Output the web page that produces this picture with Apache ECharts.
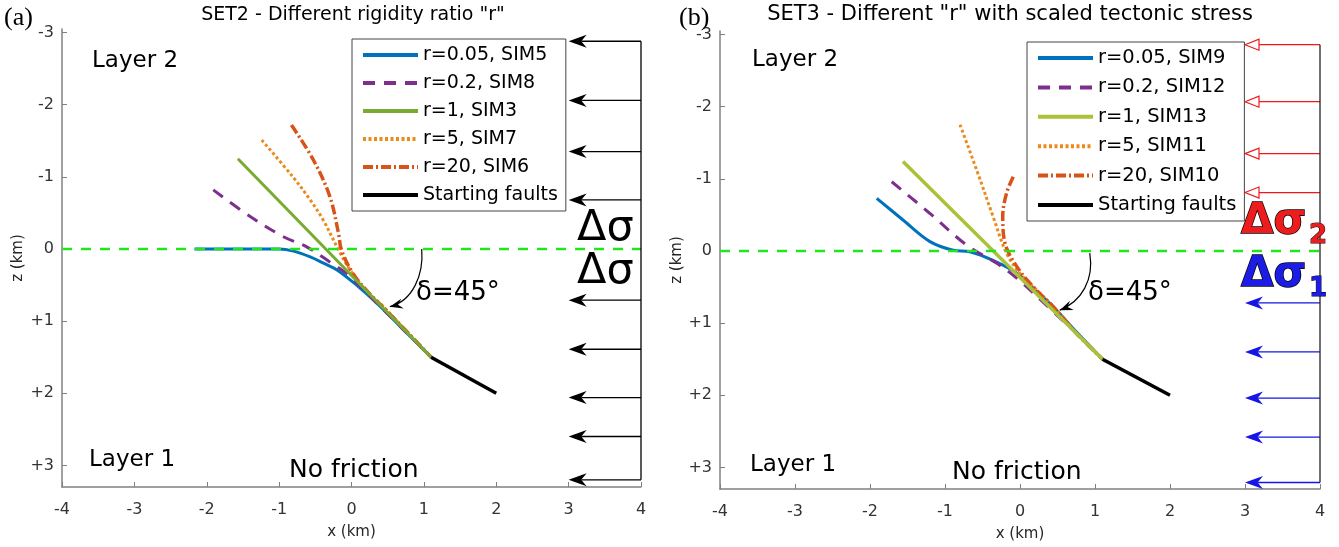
<!DOCTYPE html>
<html>
<head>
<meta charset="utf-8">
<title>SET2 / SET3 fault traces</title>
<script src="https://cdn.jsdelivr.net/npm/echarts@6/dist/echarts.min.js"></script>
<style>
  html, body { margin: 0; padding: 0; background: #fff; }
  #chart { width: 1339px; height: 547px; }
</style>
</head>
<body>
<div id="chart"></div>
<script>
// axis ticks
const xTicks = [-4, -3, -2, -1, 0, 1, 2, 3, 4]
const zTicks = [-3, -2, -1, 0, 1, 2, 3]

// (a) SET2 - different rigidity ratio r
const sim5X = [-2.17, -1.6, -1.2, -1.0, -0.8, -0.57, -0.38, -0.2, 0.07, 0.35, 0.7, 1.1]
const sim5Z = [0, 0, 0, 0, 0.03, 0.11, 0.2, 0.29, 0.5, 0.75, 1.1, 1.5]
const sim8X = [-1.91, -1.4, -0.94, -0.62, -0.3, -0.02, 0.35, 0.7, 1.1]
const sim8Z = [-0.82, -0.45, -0.17, -0.03, 0.18, 0.38, 0.75, 1.1, 1.5]
const sim3X = [-1.57, 1.1]
const sim3Z = [-1.25, 1.5]
const sim7X = [-1.24, -0.81, -0.57, -0.39, -0.18, -0.02, 0.2, 0.44, 0.75, 1.1]
const sim7Z = [-1.51, -1.0, -0.68, -0.4, 0.01, 0.29, 0.57, 0.8, 1.13, 1.5]
const sim6X = [-0.83, -0.53, -0.3, -0.18, -0.14, 0.02, 0.25, 0.48, 0.75, 1.1]
const sim6Z = [-1.72, -1.24, -0.73, -0.22, 0.01, 0.34, 0.62, 0.85, 1.13, 1.5]

// (b) SET3 - different r with scaled tectonic stress
const sim9X = [-1.91, -1.56, -1.2, -0.89, -0.67, -0.36, -0.04, 0.22, 0.44, 0.75, 1.1]
const sim9Z = [-0.73, -0.43, -0.13, -0.01, 0.01, 0.13, 0.31, 0.56, 0.77, 1.12, 1.5]
const sim12X = [-1.71, -1.2, -0.71, -0.31, -0.04, 0.4, 0.75, 1.1]
const sim12Z = [-0.96, -0.52, -0.08, 0.17, 0.38, 0.8, 1.14, 1.5]
const sim13X = [-1.56, 1.1]
const sim13Z = [-1.24, 1.5]
const sim11X = [-0.8, -0.58, -0.36, -0.18, 0.0, 0.27, 0.49, 0.75, 1.1]
const sim11Z = [-1.75, -1.13, -0.48, 0.03, 0.31, 0.59, 0.82, 1.14, 1.5]
const sim10X = [-0.09, -0.18, -0.23, -0.2, -0.04, 0.18, 0.44, 0.75, 1.1]
const sim10Z = [-1.03, -0.8, -0.48, -0.11, 0.22, 0.5, 0.77, 1.14, 1.5]

// starting fault (same in both panels)
const startX = [1.1, 2.0]
const startZ = [1.5, 2.0]

// layer interface z = 0
const interfaceX = [-4, 4]
const interfaceZ = [0, 0]

// applied stress arrows (tail at x=4, tip at x=3)
const arrowTailX = 4
const arrowTipX = 3
const arrowsAUp = [-2.88, -2.06, -1.35, -0.68]
const arrowsADown = [0.71, 1.39, 2.06, 2.6, 3.2]
const arrowsBUp = [-2.86, -2.07, -1.35, -0.81]
const arrowsBDown = [0.72, 1.4, 2.04, 2.58, 3.21]

// dip angle arrows: start, control 1, control 2, end
const dipArrowA = [0.97, 0, 1.0, 0.35, 0.85, 0.72, 0.53, 0.8]
const dipArrowB = [0.93, 0.03, 0.99, 0.4, 0.82, 0.7, 0.53, 0.82]

const namesA = ['r=0.05, SIM5', 'r=0.2, SIM8', 'r=1, SIM3', 'r=5, SIM7', 'r=20, SIM6', 'Starting faults']
const namesB = ['r=0.05, SIM9', 'r=0.2, SIM12', 'r=1, SIM13', 'r=5, SIM11', 'r=20, SIM10', 'Starting faults']

const FONT = '"DejaVu Sans", sans-serif'
const zip = (xs, zs) => xs.map((x, i) => [x, zs[i]])

function curve (name, xs, zs, idx, color, width, type) {
  return {
    name,
    type: 'line',
    xAxisIndex: idx,
    yAxisIndex: idx,
    data: zip(xs, zs),
    smooth: xs.length > 2 ? 0.35 : false,
    symbol: 'none',
    lineStyle: { color, width, type: type || 'solid', cap: 'butt' },
    itemStyle: { color }
  }
}

// horizontal stress arrow; hollow = open triangle head
function arrows (idx, zs, color, hollow) {
  return {
    type: 'custom',
    xAxisIndex: idx,
    yAxisIndex: idx,
    silent: true,
    data: zs.map(z => [arrowTailX, z, arrowTipX]),
    renderItem (params, api) {
      const tail = api.coord([api.value(0), api.value(1)])
      const tip = api.coord([api.value(2), api.value(1)])
      const L = hollow ? 14 : 18
      const W = hollow ? 5.5 : 6.5
      const tx = tip[0]
      const ty = tip[1]
      const back = hollow ? tx + L : tx + L * 0.7
      const head = hollow
        ? {
            type: 'polygon',
            shape: { points: [[tx, ty], [tx + L, ty - W], [tx + L, ty + W]] },
            style: { fill: '#fff', stroke: color, lineWidth: 1.2 }
          }
        : {
            type: 'polygon',
            shape: { points: [[tx, ty], [tx + L, ty - W], [back, ty], [tx + L, ty + W]] },
            style: { fill: color }
          }
      return {
        type: 'group',
        children: [
          { type: 'line', shape: { x1: tail[0], y1: tail[1], x2: back, y2: ty }, style: { stroke: color, lineWidth: 1.3 } },
          head
        ]
      }
    }
  }
}

function dipArrow (idx, vals) {
  return {
    type: 'custom',
    xAxisIndex: idx,
    yAxisIndex: idx,
    silent: true,
    data: [vals],
    renderItem (params, api) {
      const p = [0, 2, 4, 6].map(i => api.coord([api.value(i), api.value(i + 1)]))
      const a = Math.atan2(p[3][1] - p[2][1], p[3][0] - p[2][0])
      const L = 13
      const W = 5
      const ca = Math.cos(a)
      const sa = Math.sin(a)
      const pt = (d, w) => [p[3][0] - ca * d - sa * w, p[3][1] - sa * d + ca * w]
      return {
        type: 'group',
        children: [
          {
            type: 'bezierCurve',
            shape: { x1: p[0][0], y1: p[0][1], cpx1: p[1][0], cpy1: p[1][1], cpx2: p[2][0], cpy2: p[2][1], x2: p[3][0], y2: p[3][1] },
            style: { stroke: '#000', lineWidth: 1.2, fill: 'none' }
          },
          { type: 'polygon', shape: { points: [p[3], pt(L, W), pt(L * 0.65, 0), pt(L, -W)] }, style: { fill: '#000' } }
        ]
      }
    }
  }
}

function xAxis (idx) {
  return {
    type: 'value',
    gridIndex: idx,
    min: -4,
    max: 4,
    interval: 1,
    name: 'x (km)',
    nameLocation: 'middle',
    nameGap: 38,
    nameTextStyle: { fontFamily: FONT, fontSize: 15, color: '#262626' },
    axisLine: { onZero: false, lineStyle: { color: '#808080', width: 1.5 } },
    axisTick: { inside: true, length: 5, lineStyle: { color: '#808080' } },
    axisLabel: { margin: 15, color: '#333', fontSize: 16, fontFamily: FONT },
    splitLine: { show: false }
  }
}

function yAxis (idx, gap) {
  return {
    type: 'value',
    gridIndex: idx,
    inverse: true,
    min: -3.05,
    max: 3.3,
    name: 'z (km)',
    nameLocation: 'middle',
    nameRotate: 90,
    nameGap: gap,
    nameTextStyle: { fontFamily: FONT, fontSize: 15, color: '#262626' },
    axisLine: { onZero: false, lineStyle: { color: '#808080', width: 1.5 } },
    axisTick: { inside: true, length: 5, customValues: zTicks, lineStyle: { color: '#808080' } },
    axisLabel: {
      margin: 8,
      color: '#333',
      fontSize: 16,
      fontFamily: FONT,
      customValues: zTicks,
      formatter: v => (v > 0 ? '+' + v : String(v))
    },
    splitLine: { show: false }
  }
}

function legend (data, left, top, fontSize, gap) {
  return {
    data,
    orient: 'vertical',
    left,
    top,
    selectedMode: false,
    itemWidth: 55,
    itemHeight: 20,
    itemGap: gap,
    padding: [6, 8, 6, 9],
    backgroundColor: '#fff',
    borderColor: '#444',
    borderWidth: 1,
    borderRadius: 0,
    itemStyle: { opacity: 0 },
    lineStyle: { width: 4 },
    textStyle: { fontFamily: FONT, fontSize, color: '#000', lineHeight: 20 }
  }
}

function text (str, x, y, size, opts) {
  return {
    type: 'text',
    x,
    y,
    z: 100,
    style: Object.assign({
      text: str,
      font: size + 'px ' + FONT,
      fill: '#000',
      textAlign: 'left',
      textVerticalAlign: 'middle'
    }, opts || {})
  }
}

const chart = echarts.init(document.getElementById('chart'))

const interfaceStyle = { color: '#1fe61f', width: 2.5, type: [10, 9] }
const frameStyle = { color: '#000', width: 1.3 }

chart.setOption({
  animation: false,
  backgroundColor: '#fff',
  grid: [
    { left: 62, top: 29, width: 579, height: 458 },
    { left: 720, top: 31, width: 600, height: 458 }
  ],
  xAxis: [xAxis(0), xAxis(1)],
  yAxis: [yAxis(0, 36), yAxis(1, 30)],
  legend: [
    legend(namesA, 352, 39, 19, 8),
    legend(namesB, 1027, 42, 19.5, 9.4)
  ],
  series: [
    // (a)
    curve(namesA[0], sim5X, sim5Z, 0, '#0072bd', 3),
    curve(namesA[1], sim8X, sim8Z, 0, '#7e2f8e', 3, [12, 9]),
    curve(namesA[3], sim7X, sim7Z, 0, '#ec8a1c', 3, [3, 2.5]),
    curve(namesA[4], sim6X, sim6Z, 0, '#d95319', 3.5, [10, 3, 2, 3]),
    curve(namesA[2], sim3X, sim3Z, 0, '#77ac30', 3),
    curve(namesA[5], startX, startZ, 0, '#000', 3.5),
    { type: 'line', xAxisIndex: 0, yAxisIndex: 0, symbol: 'none', data: zip(interfaceX, interfaceZ), lineStyle: interfaceStyle },
    { type: 'line', xAxisIndex: 0, yAxisIndex: 0, symbol: 'none', data: [[arrowTailX, arrowsAUp[0]], [arrowTailX, arrowsADown[arrowsADown.length - 1]]], lineStyle: frameStyle },
    arrows(0, arrowsAUp, '#000', false),
    arrows(0, arrowsADown, '#000', false),
    dipArrow(0, dipArrowA),
    // (b)
    curve(namesB[0], sim9X, sim9Z, 1, '#0072bd', 3),
    curve(namesB[1], sim12X, sim12Z, 1, '#7e2f8e', 3, [12, 9]),
    curve(namesB[3], sim11X, sim11Z, 1, '#ec8a1c', 3, [3, 2.5]),
    curve(namesB[4], sim10X, sim10Z, 1, '#d95319', 3.5, [10, 3, 2, 3]),
    curve(namesB[2], sim13X, sim13Z, 1, '#aac23a', 3.5),
    curve(namesB[5], startX, startZ, 1, '#000', 3.5),
    { type: 'line', xAxisIndex: 1, yAxisIndex: 1, symbol: 'none', data: zip(interfaceX, interfaceZ), lineStyle: interfaceStyle },
    { type: 'line', xAxisIndex: 1, yAxisIndex: 1, symbol: 'none', data: [[arrowTailX, arrowsBUp[0]], [arrowTailX, arrowsBDown[arrowsBDown.length - 1]]], lineStyle: { color: '#222', width: 1.3 } },
    arrows(1, arrowsBUp, '#f01818', true),
    arrows(1, arrowsBDown, '#1515e6', false),
    dipArrow(1, dipArrowB)
  ],
  graphic: [
    text('(a)', 4, 18, 26, { font: '26px "Liberation Serif", serif' }),
    text('SET2 - Different rigidity ratio "r"', 353, 15, 19, { textAlign: 'center' }),
    text('Layer 2', 92, 61, 23),
    text('Layer 1', 89, 460, 23),
    text('No friction', 289, 470, 25),
    text('δ=45°', 416, 293, 26),
    text('Δσ', 577, 229, 43),
    text('Δσ', 577, 272, 43),

    text('(b)', 679, 18, 26, { font: '26px "Liberation Serif", serif' }),
    text('SET3 - Different "r" with scaled tectonic stress', 1010, 15, 21, { textAlign: 'center' }),
    text('Layer 2', 752, 60, 23),
    text('Layer 1', 750, 465, 23),
    text('No friction', 952, 472, 25),
    text('δ=45°', 1088, 293, 26),
    text('Δσ', 1241, 222, 42, { fill: '#ee1c1c', stroke: '#000', lineWidth: 1.4, font: 'bold 42px ' + FONT }),
    text('2', 1309, 236, 26, { fill: '#ee1c1c', stroke: '#000', lineWidth: 1, font: 'bold 26px ' + FONT }),
    text('Δσ', 1241, 275, 42, { fill: '#1c1ce6', stroke: '#000', lineWidth: 1.4, font: 'bold 42px ' + FONT }),
    text('1', 1309, 289, 26, { fill: '#1c1ce6', stroke: '#000', lineWidth: 1, font: 'bold 26px ' + FONT })
  ]
})

window.addEventListener('resize', () => chart.resize())
</script>
</body>
</html>
